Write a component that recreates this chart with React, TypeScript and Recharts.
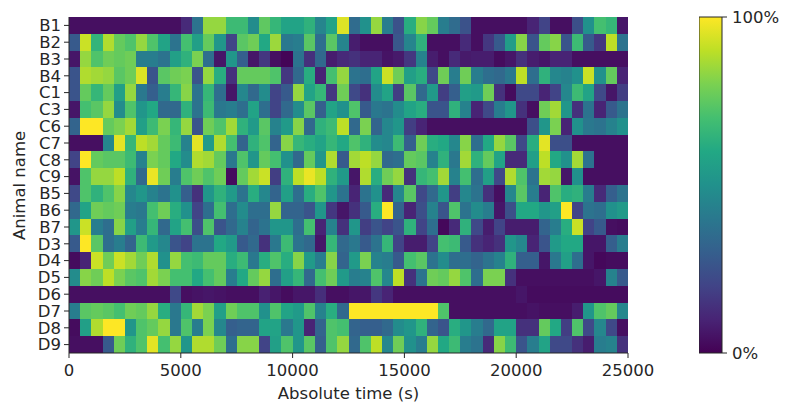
import { BarChart, Bar, Cell, XAxis, YAxis, ReferenceArea } from 'recharts';

const animals = ['B1', 'B2', 'B3', 'B4', 'C1', 'C3', 'C6', 'C7', 'C8', 'C9', 'B5', 'B6', 'B7', 'D3', 'D4', 'D5', 'D6', 'D7', 'D8', 'D9'];
const xTicks = [0, 5000, 10000, 15000, 20000, 25000];
const binSeconds = 500;

// percent of time per 500 s bin
const b1 = [4,4,4,4,4,4,4,4,4,4,12,38,84,84,68,68,48,75,66,58,58,64,45,58,95,35,50,84,42,25,62,82,76,42,35,25,4,4,4,4,4,10,20,4,4,24,50,70,66,6];
const b2 = [28,92,65,88,76,72,84,72,58,38,70,56,76,52,20,74,78,60,85,40,42,74,36,74,45,8,4,4,4,27,45,64,4,4,4,12,4,16,28,55,82,26,76,82,26,68,28,16,90,38];
const b3 = [6,84,72,78,76,78,42,42,38,56,64,80,36,6,52,30,6,16,4,1,38,14,34,8,12,14,10,10,5,7,16,44,8,4,12,7,8,8,3,6,14,8,6,10,10,4,4,4,4,4];
const b4 = [26,88,86,84,74,78,95,26,74,78,80,26,84,62,14,76,76,76,72,16,34,62,10,70,84,38,36,58,92,78,56,62,22,78,42,78,42,36,34,40,90,36,64,46,44,50,92,50,76,10];
const c1 = [26,76,66,76,56,84,40,30,42,66,82,38,66,36,6,46,34,48,20,28,84,58,66,16,78,22,14,48,58,18,74,34,54,18,30,56,54,78,14,3,22,22,10,20,46,68,58,22,6,18];
const c3 = [6,70,74,84,48,72,52,60,34,34,64,38,68,40,42,36,58,36,20,34,48,74,30,58,50,72,28,40,38,48,58,62,26,26,64,44,10,22,42,52,14,4,78,86,52,14,38,10,28,38];
const c6 = [32,100,100,76,80,86,56,68,80,66,84,26,78,72,86,64,54,74,44,54,82,34,64,68,90,34,80,32,46,52,18,10,4,4,4,4,4,4,4,4,4,24,52,80,10,50,40,38,44,50];
const c7 = [4,4,4,46,96,66,90,86,76,68,44,96,54,88,70,32,64,72,32,82,66,62,58,66,60,72,64,48,46,68,30,78,62,60,46,82,36,60,84,74,22,62,96,24,24,4,4,4,4,4];
const c8 = [20,100,76,74,74,68,44,80,76,60,48,88,86,76,40,72,52,76,70,50,34,76,52,88,28,86,90,84,34,36,76,74,44,64,40,86,64,76,58,12,12,56,90,60,50,86,38,4,4,4];
const c9 = [5,72,84,84,90,64,34,97,78,42,72,78,72,78,3,76,86,92,18,64,90,97,90,64,54,6,88,62,78,84,14,66,70,86,44,70,36,56,22,88,72,38,86,84,6,50,4,4,4,4];
const b5 = [22,72,64,72,82,46,52,44,38,50,30,14,52,64,54,38,62,46,32,56,36,62,72,52,38,10,38,50,12,46,74,22,34,52,18,46,38,14,4,46,74,42,10,72,62,64,42,12,30,38];
const b6 = [34,58,78,76,78,42,40,70,78,62,50,20,36,70,36,48,36,36,84,32,32,26,52,16,6,14,28,62,100,32,10,24,44,26,72,38,48,42,6,24,60,60,52,56,100,20,38,36,50,54];
const b7 = [52,92,42,36,82,56,42,66,34,58,70,24,72,26,34,44,32,38,52,52,36,70,10,44,14,52,18,26,20,26,64,20,36,2,12,64,22,8,20,8,8,8,32,42,62,92,20,28,4,3];
const d3 = [28,100,74,36,42,32,68,54,46,26,20,38,38,60,54,28,34,14,40,68,38,34,6,66,34,40,28,38,66,20,8,8,20,70,68,28,14,10,14,52,46,10,26,54,60,60,6,6,30,42];
const d4 = [3,10,92,78,92,86,78,88,50,84,70,68,76,76,62,68,40,62,72,62,82,54,42,82,32,54,80,44,42,28,70,74,38,48,36,36,32,38,44,64,30,30,6,40,56,36,6,2,3,3];
const d5 = [48,82,78,90,80,74,72,86,80,70,70,60,70,76,42,60,76,84,36,56,66,34,70,78,54,42,44,72,46,90,14,38,78,76,84,72,36,80,80,14,4,4,4,4,4,4,4,6,44,28];
const d6 = [4,4,4,4,4,4,4,4,4,22,4,5,6,5,4,4,4,9,6,3,6,6,13,4,4,6,6,16,10,4,4,4,4,4,4,4,4,4,4,4,6,3,3,3,3,3,3,3,3,3];
const d7 = [42,74,76,74,70,78,76,84,62,40,66,86,80,56,78,72,72,50,72,58,54,72,44,62,34,100,100,100,100,100,100,100,100,72,4,4,4,4,4,4,4,5,4,4,4,8,52,72,76,46];
const d8 = [3,56,88,100,100,52,72,76,84,40,72,42,80,46,30,32,32,58,58,40,52,10,32,72,70,32,30,30,34,48,52,64,32,26,62,52,42,34,58,58,14,14,76,60,18,72,22,46,22,4];
const d9 = [4,4,4,28,78,64,72,96,70,84,52,88,88,78,36,82,82,20,56,72,52,74,30,72,84,34,72,90,46,78,50,42,84,60,68,42,38,12,82,68,26,42,58,22,22,14,8,42,44,14];

const rows = [b1, b2, b3, b4, c1, c3, c6, c7, c8, c9, b5, b6, b7, d3, d4, d5, d6, d7, d8, d9];

const viridis = [
  [68, 1, 84], [72, 36, 117], [65, 68, 135], [53, 95, 141], [42, 120, 142], [33, 145, 140],
  [34, 168, 132], [68, 191, 112], [122, 209, 81], [189, 223, 38], [253, 231, 37],
];

function colorOf(pct: number) {
  const p = Math.max(0, Math.min(99.999, pct)) / 10;
  const i = Math.floor(p);
  const t = p - i;
  const c = viridis[i].map((v, k) => Math.round(v + (viridis[i + 1][k] - v) * t));
  return `rgb(${c[0]},${c[1]},${c[2]})`;
}

const table = animals.map((name) => {
  const row: Record<string, number | string> = { name };
  rows[0].forEach((_, j) => { row[`t${j}`] = binSeconds; });
  return row;
});

const font = { fontFamily: '"DejaVu Sans"', fontSize: 16.5, fill: '#262626' };
const ink = '#262626';

export default function App() {
  return (
    <div style={{ position: 'absolute', left: 0, top: 0, width: 792, height: 415, background: '#fff' }}>
      <div style={{ position: 'absolute', left: 0, top: 0 }}>
        <BarChart width={792} height={415} data={table} layout="vertical" barCategoryGap={0}
          margin={{ top: 17, right: 164, bottom: 12, left: 19 }}>
          <XAxis type="number" domain={[0, 25000]} ticks={xTicks} height={50} tick={font} tickSize={5}
            tickMargin={6} stroke={ink} axisLine={{ stroke: ink }}
            label={{ value: 'Absolute time (s)', position: 'insideBottom', offset: 4, style: font }} />
          <YAxis type="category" dataKey="name" interval={0} width={50} tick={font} tickSize={5}
            tickMargin={3} stroke={ink} axisLine={{ stroke: ink }}
            label={{ value: 'Animal name', angle: -90, position: 'insideLeft', offset: 0, dy: 55, style: font }} />
          {rows[0].map((_, j) => (
            <Bar key={j} dataKey={`t${j}`} stackId="heat" isAnimationActive={false} shapeRendering="crispEdges">
              {rows.map((r, i) => <Cell key={i} fill={colorOf(r[j])} />)}
            </Bar>
          ))}
          <ReferenceArea fill="none" stroke={ink} strokeWidth={1} ifOverflow="visible" />
        </BarChart>
      </div>
      <div style={{ position: 'absolute', left: 699, top: 0 }}>
        <BarChart width={93} height={415} data={[{ level: 100 }]} barCategoryGap={0}
          margin={{ top: 17, right: 0, bottom: 62, left: 0 }}>
          <defs>
            <linearGradient id="viridisBar" x1="0" y1="1" x2="0" y2="0">
              {viridis.map((c, i) => (
                <stop key={i} offset={`${i * 10}%`} stopColor={`rgb(${c[0]},${c[1]},${c[2]})`} />
              ))}
            </linearGradient>
          </defs>
          <XAxis hide />
          <YAxis orientation="right" domain={[0, 100]} ticks={[0, 100]} width={70} tick={font} tickSize={5}
            tickMargin={5} stroke={ink} axisLine={false} tickFormatter={(v: number) => `${v}%`} />
          <Bar dataKey="level" fill="url(#viridisBar)" stroke={ink} strokeWidth={1} isAnimationActive={false} />
        </BarChart>
      </div>
    </div>
  );
}
